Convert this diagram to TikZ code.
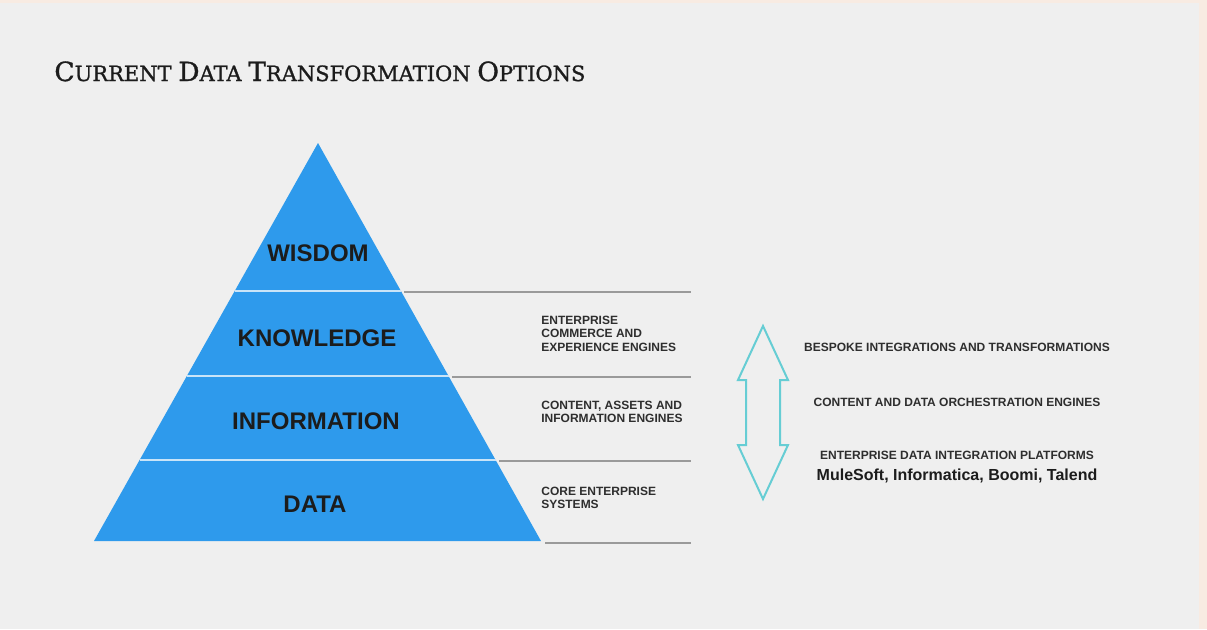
\documentclass[tikz,border=0pt]{standalone}
\usepackage{fontspec}
\setmainfont{Liberation Sans}
\newfontfamily\titlefont{DejaVu Serif}[FakeBold=1.2]
\definecolor{pagebg}{HTML}{EFEFEF}
\definecolor{edgebg}{HTML}{F8EBE2}
\definecolor{pyrblue}{HTML}{2E9AEC}
\definecolor{sepline}{HTML}{C9E4F8}
\definecolor{ruleline}{HTML}{9A9A9A}
\definecolor{arrowcyan}{HTML}{66CDD4}
\definecolor{inktext}{HTML}{1C1C1C}
\definecolor{softtext}{HTML}{2E2E2E}
% fake small caps: large initial, smaller capitals after it
\newcommand{\scword}[2]{{\fontsize{12.6}{12.6}\selectfont #1}{\fontsize{10}{10}\selectfont #2}}
\tikzset{
  level/.style={font=\bfseries\fontsize{12}{12}\selectfont, text=inktext, inner sep=0pt},
  tierlabel/.style={font=\bfseries\fontsize{6}{6.8}\selectfont, text=softtext, align=left, anchor=west, inner sep=0pt},
  option/.style={font=\bfseries\fontsize{6}{6}\selectfont, text=softtext, inner sep=0pt},
  vendor/.style={font=\bfseries\fontsize{8}{8}\selectfont, text=inktext, inner sep=0pt},
  tierrule/.style={draw=ruleline, line width=0.7pt},
  bandsep/.style={draw=sepline, line width=0.6pt},
}
\begin{document}
\begin{tikzpicture}[x=0.5pt,y=-0.5pt]
\useasboundingbox (0,0) rectangle (1207,629);
% page background with the warm edge strips
\fill[edgebg] (0,0) rectangle (1207,629);
\fill[pagebg] (0,3) rectangle (1199,629);

% title
\node[anchor=base west, inner sep=0pt, text=inktext, font=\titlefont] (title) at (54,81)
  {\resizebox{265.5pt}{!}{\scword{C}{URRENT} \scword{D}{ATA} \scword{T}{RANSFORMATION} \scword{O}{PTIONS}}};

% pyramid
\coordinate (apex) at (318,143);
\coordinate (bl) at (94,541);
\coordinate (br) at (541,541);
\fill[pyrblue] (apex) -- (br) -- (bl) -- cycle;
% band boundaries on the pyramid edges
\coordinate (l1) at (235,291); \coordinate (r1) at (401,291);
\coordinate (l2) at (187,376); \coordinate (r2) at (449,376);
\coordinate (l3) at (140,460); \coordinate (r3) at (496,460);
\draw[bandsep] (l1) -- (r1);
\draw[bandsep] (l2) -- (r2);
\draw[bandsep] (l3) -- (r3);

\node[level] (wisdom) at (318,253) {WISDOM};
\node[level] (knowledge) at (317,338) {KNOWLEDGE};
\node[level] (information) at (316,421) {INFORMATION};
\node[level] (data) at (315,504) {DATA};

% rules extending the band boundaries to the right
\coordinate (s1) at (404,292); \coordinate (e1) at (691,292);
\coordinate (s2) at (452,377); \coordinate (e2) at (691,377);
\coordinate (s3) at (499,461); \coordinate (e3) at (691,461);
\coordinate (s4) at (545,543); \coordinate (e4) at (691,543);
\draw[tierrule] (s1) -- (e1);
\draw[tierrule] (s2) -- (e2);
\draw[tierrule] (s3) -- (e3);
\draw[tierrule] (s4) -- (e4);

\node[tierlabel] (engines) at (541,333.5) {ENTERPRISE\\COMMERCE AND\\EXPERIENCE ENGINES};
\node[tierlabel] (content) at (541,412) {CONTENT, ASSETS AND\\INFORMATION ENGINES};
\node[tierlabel] (core) at (541,498) {CORE ENTERPRISE\\SYSTEMS};

% double-headed outline arrow
\draw[arrowcyan, line width=1pt, line join=miter]
  (763,326) -- (788,380) -- (780,380) -- (780,445) -- (788,445) -- (763,499)
  -- (738,445) -- (746,445) -- (746,380) -- (738,380) -- cycle;

\node[option] (bespoke) at (957,347) {BESPOKE INTEGRATIONS AND TRANSFORMATIONS};
\node[option] (orchestration) at (957,402) {CONTENT AND DATA ORCHESTRATION ENGINES};
\node[option] (platforms) at (957,455) {ENTERPRISE DATA INTEGRATION PLATFORMS};
\node[vendor] (vendors) at (957,476) {MuleSoft, Informatica, Boomi, Talend};
\end{tikzpicture}
\end{document}
